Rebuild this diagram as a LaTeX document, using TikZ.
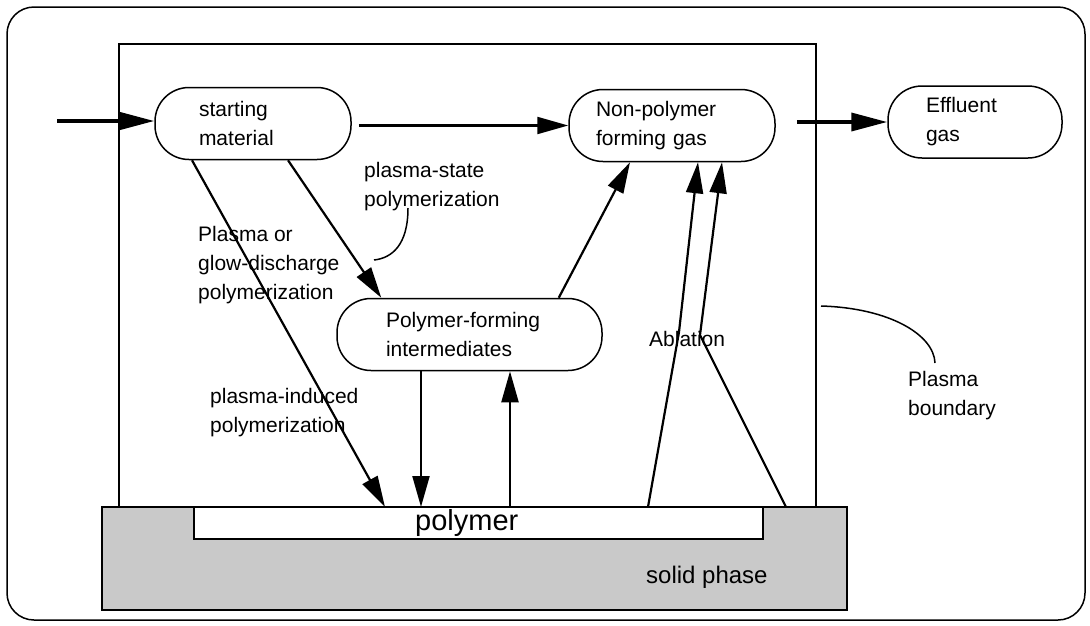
\documentclass[tikz,border=0pt]{standalone}
\usepackage{fontspec}
\setmainfont{Liberation Sans}
\usetikzlibrary{arrows.meta}

\tikzset{
	stadium/.style={draw, line width=1.5pt, rounded corners=34pt, minimum height=72pt, align=left, inner ysep=4pt, font=\fontsize{21}{29}\selectfont},
	flow/.style={-{Triangle[length=31pt,width=17pt]}, line width=2.2pt},
	bigflow/.style={-{Triangle[length=36pt,width=18pt]}, line width=3.6pt},
	lbl/.style={align=left, anchor=north west, inner sep=0pt, font=\fontsize{21}{29}\selectfont},
}

\begin{document}
\begin{tikzpicture}[x=1pt,y=-1pt]
	\useasboundingbox (0,0) rectangle (1090,625);
	\draw[line width=1.5pt, rounded corners=27pt] (7,7) rectangle (1085,620);
	% plasma boundary
	\draw[line width=1.5pt] (119,507) -- (119,44) -- (816,44) -- (816,507);
	% solid phase with polymer layer
	\draw[line width=1.7pt, fill=black!21] (102,507) rectangle (847,610);
	\draw[line width=1.7pt, fill=white] (194,507) rectangle (763,539);
	\node[inner sep=0pt, anchor=base west, font=\fontsize{29}{33}\selectfont] (polymer) at (415,530) {polymer};
	\node[inner sep=0pt, anchor=base west, font=\fontsize{24}{28}\selectfont] (solid) at (646,583) {solid phase};

	\node[stadium, text width=108pt, inner xsep=44pt] (start) at (253,123.5) {starting\\material};
	\node[stadium, text width=152pt, inner xsep=27pt] (nonpoly) at (672,125.5) {Non-polymer\\forming gas};
	\node[stadium, text width=98pt, inner xsep=38pt] (effluent) at (975,122) {Effluent\\gas};
	\node[stadium, text width=167pt, inner xsep=49pt] (inter) at (469.5,334.5) {Polymer-forming\\intermediates};

	\coordinate (feed) at (57,121);
	\coordinate (p1) at (385,507);
	\coordinate (p2) at (421,507);
	\coordinate (p3) at (510,507);
	\coordinate (p4) at (648,507);
	\coordinate (p5) at (786,507);
	\coordinate (abl1) at (679,332);
	\coordinate (abl2) at (700,335);

	\draw[bigflow] (feed) -- (feed -| start.west);
	\draw[flow] ([xshift=7pt]start.east |- nonpoly.west) -- (nonpoly.west);
	\draw[bigflow] ([xshift=21pt]nonpoly.east |- effluent.west) -- (effluent.west);
	\draw[flow] ([xshift=-61pt]start.south) -- (p1);
	\draw[flow] ([xshift=35pt]start.south) -- ([xshift=45pt]inter.north west);
	\draw[flow] (inter.south -| p2) -- (p2);
	\draw[flow] (p3) -- (inter.south -| p3);
	\draw[flow] ([xshift=-44pt]inter.north east) -- ([xshift=-42pt]nonpoly.south);
	\draw[flow] (p4) -- (abl1) -- ([xshift=26pt]nonpoly.south);
	\draw[flow] (p5) -- (abl2) -- ([xshift=50pt]nonpoly.south);

	\node[lbl] (lstate) at (364,162) {plasma-state\\polymerization};
	\node[lbl] (lglow) at (198,226) {Plasma or\\glow-discharge\\polymerization};
	\node[lbl] (linduced) at (210,388) {plasma-induced\\polymerization};
	\node[lbl] (lablation) at (649,331) {Ablation};
	\node[lbl] (lboundary) at (908,371) {Plasma\\boundary};

	\draw[line width=1.5pt] (408,208) .. controls (408,245) and (392,258) .. (374,260);
	\draw[line width=1.5pt] (821,306) .. controls (890,308) and (934,335) .. (935,363);
\end{tikzpicture}
\end{document}
